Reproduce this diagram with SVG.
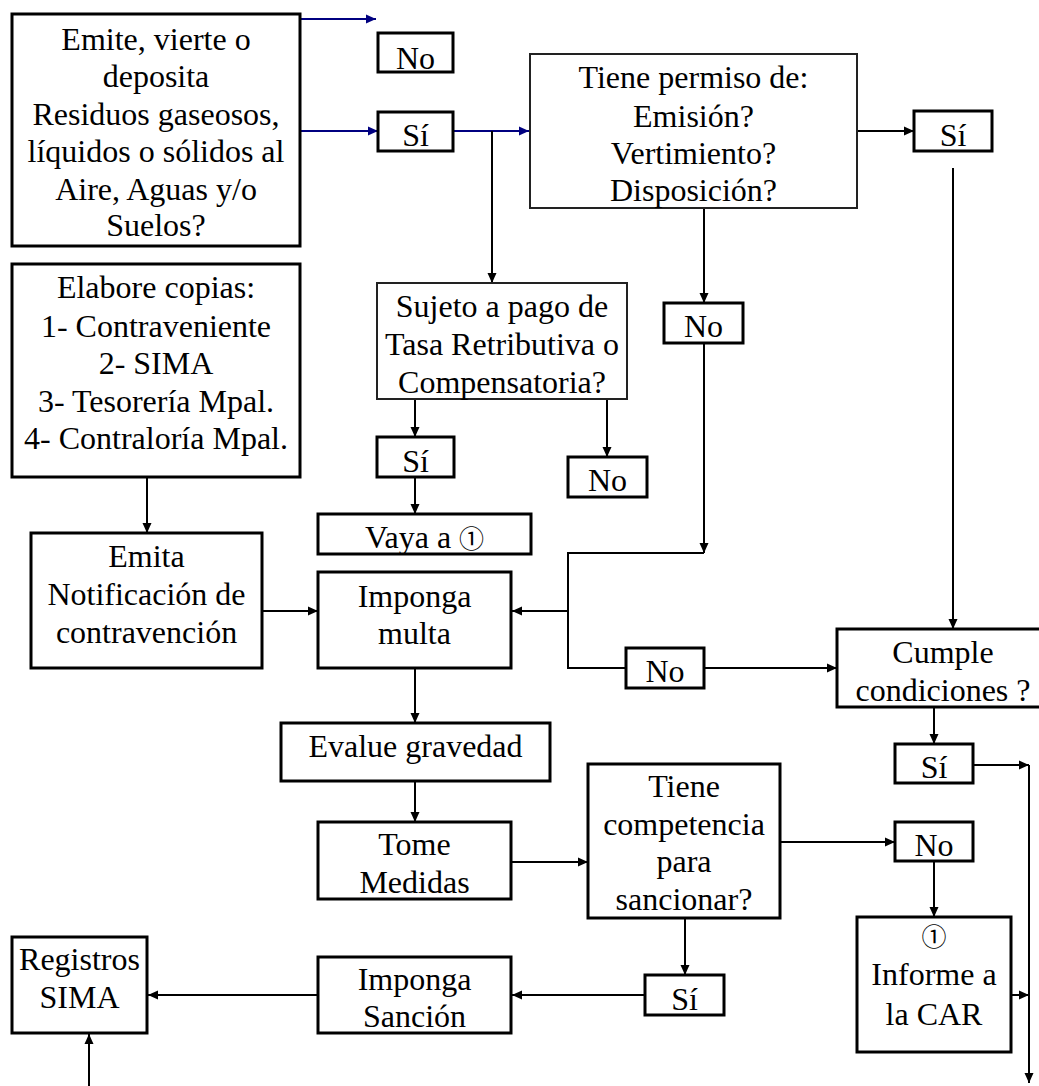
<svg xmlns="http://www.w3.org/2000/svg" width="1039" height="1086" viewBox="0 0 1039 1086">
<defs>
<marker id="ab" markerUnits="userSpaceOnUse" markerWidth="10" markerHeight="10" refX="10" refY="5" orient="auto"><path d="M0,0.5 L10,5 L0,9.5 z" fill="#000"/></marker>
<marker id="au" markerUnits="userSpaceOnUse" markerWidth="10" markerHeight="10" refX="10" refY="5" orient="auto"><path d="M0,0.5 L10,5 L0,9.5 z" fill="#000080"/></marker>
<style>
.b{fill:#fff;stroke:#000;stroke-width:3}
.t{fill:#fff;stroke:#222;stroke-width:2}
text{font-family:"Liberation Serif","Noto Sans CJK JP",serif;font-size:32px;fill:#000;text-anchor:middle}
.k{font-size:25px}
.c{fill:none;stroke:#000;stroke-width:2}
.u{fill:none;stroke:#000080;stroke-width:2}
</style>
</defs>
<rect width="1039" height="1086" fill="#fff"/>
<g id="connectors">
<path class="u" d="M300,19 H376" marker-end="url(#au)"/>
<path class="u" d="M300,131 H378" marker-end="url(#au)"/>
<path class="u" d="M453,131 H529" marker-end="url(#au)"/>
<path class="c" d="M492,131 V283" marker-end="url(#ab)"/>
<path class="c" d="M857,131 H914" marker-end="url(#ab)"/>
<path class="c" d="M953,168 V629" marker-end="url(#ab)"/>
<path class="c" d="M704,208 V303" marker-end="url(#ab)"/>
<path class="c" d="M704,343 V553" marker-end="url(#ab)"/>
<path class="c" d="M704,553 H568 V668 H626"/>
<path class="c" d="M568,611 H512" marker-end="url(#ab)"/>
<path class="c" d="M704,668 H837" marker-end="url(#ab)"/>
<path class="c" d="M415,399 V437" marker-end="url(#ab)"/>
<path class="c" d="M415,477 V514" marker-end="url(#ab)"/>
<path class="c" d="M607,399 V457" marker-end="url(#ab)"/>
<path class="c" d="M147,477 V533" marker-end="url(#ab)"/>
<path class="c" d="M262,611 H318" marker-end="url(#ab)"/>
<path class="c" d="M415,668 V723" marker-end="url(#ab)"/>
<path class="c" d="M415,781 V822" marker-end="url(#ab)"/>
<path class="c" d="M511,862 H588" marker-end="url(#ab)"/>
<path class="c" d="M780,842 H895" marker-end="url(#ab)"/>
<path class="c" d="M934,861 V917" marker-end="url(#ab)"/>
<path class="c" d="M685,918 V975" marker-end="url(#ab)"/>
<path class="c" d="M645,995 H512" marker-end="url(#ab)"/>
<path class="c" d="M318,995 H148" marker-end="url(#ab)"/>
<path class="c" d="M89,1086 V1034" marker-end="url(#ab)"/>
<path class="c" d="M934,707 V744" marker-end="url(#ab)"/>
<path class="c" d="M973,765 H1029" marker-end="url(#ab)"/>
<path class="c" d="M1029,765 V1083" marker-end="url(#ab)"/>
<path class="c" d="M1011,995 H1029" marker-end="url(#ab)"/>
</g>
<g id="n-emite"><rect class="b" x="12" y="14" width="288" height="232"/>
<text x="156" y="50">Emite, vierte o</text><text x="156" y="87">deposita</text><text x="156" y="125">Residuos gaseosos,</text><text x="156" y="162">líquidos o sólidos al</text><text x="156" y="200">Aire, Aguas y/o</text><text x="156" y="236">Suelos?</text></g>
<g id="n-no1"><rect class="b" x="378" y="33" width="75" height="39"/><text x="415.5" y="69">No</text></g>
<g id="n-si1"><rect class="b" x="378" y="112" width="75" height="39"/><text x="415.5" y="146">Sí</text></g>
<g id="n-permiso"><rect class="t" x="530" y="54" width="327" height="154"/>
<text x="693.5" y="88">Tiene permiso de:</text><text x="693.5" y="127">Emisión?</text><text x="693.5" y="164">Vertimiento?</text><text x="693.5" y="201">Disposición?</text></g>
<g id="n-si2"><rect class="b" x="914" y="111" width="78" height="40"/><text x="953" y="146">Sí</text></g>
<g id="n-elabore"><rect class="b" x="12" y="264" width="288" height="213"/>
<text x="156" y="298">Elabore copias:</text><text x="156" y="337">1- Contraveniente</text><text x="156" y="374">2- SIMA</text><text x="156" y="412">3- Tesorería Mpal.</text><text x="156" y="449">4- Contraloría Mpal.</text></g>
<g id="n-sujeto"><rect class="t" x="377" y="283" width="250" height="116"/>
<text x="502" y="317">Sujeto a pago de</text><text x="502" y="355">Tasa Retributiva o</text><text x="502" y="393">Compensatoria?</text></g>
<g id="n-no2"><rect class="b" x="664" y="303" width="79" height="40"/><text x="703.5" y="337">No</text></g>
<g id="n-si3"><rect class="b" x="377" y="437" width="77" height="40"/><text x="415.5" y="472">Sí</text></g>
<g id="n-no3"><rect class="b" x="568" y="457" width="79" height="40"/><text x="607.5" y="491">No</text></g>
<g id="n-vaya"><rect class="b" x="318" y="514" width="213" height="40"/><text x="424.5" y="548">Vaya a <tspan class="k">①</tspan></text></g>
<g id="n-emita"><rect class="b" x="31" y="533" width="231" height="135"/>
<text x="146.5" y="567">Emita</text><text x="146.5" y="605">Notificación de</text><text x="146.5" y="643">contravención</text></g>
<g id="n-multa"><rect class="b" x="318" y="572" width="193" height="96"/>
<text x="414.5" y="607">Imponga</text><text x="414.5" y="644">multa</text></g>
<g id="n-no4"><rect class="b" x="626" y="648" width="78" height="40"/><text x="665" y="682">No</text></g>
<g id="n-cumple"><rect class="b" x="837" y="629" width="215" height="78"/>
<text x="943" y="663">Cumple</text><text x="943" y="701">condiciones ?</text></g>
<g id="n-evalue"><rect class="b" x="281" y="723" width="269" height="58"/><text x="415.5" y="757">Evalue gravedad</text></g>
<g id="n-si4"><rect class="b" x="895" y="744" width="78" height="39"/><text x="934" y="778">Sí</text></g>
<g id="n-tome"><rect class="b" x="318" y="822" width="193" height="77"/>
<text x="414.5" y="855">Tome</text><text x="414.5" y="893">Medidas</text></g>
<g id="n-competencia"><rect class="b" x="588" y="764" width="192" height="154"/>
<text x="684" y="797">Tiene</text><text x="684" y="835">competencia</text><text x="684" y="872">para</text><text x="684" y="910">sancionar?</text></g>
<g id="n-no5"><rect class="b" x="895" y="822" width="78" height="39"/><text x="934" y="856">No</text></g>
<g id="n-informe"><rect class="b" x="857" y="917" width="154" height="135"/>
<text x="934" y="946" class="k">①</text><text x="934" y="985">Informe a</text><text x="934" y="1025">la CAR</text></g>
<g id="n-si5"><rect class="b" x="645" y="975" width="79" height="40"/><text x="684.5" y="1010">Sí</text></g>
<g id="n-sancion"><rect class="b" x="318" y="957" width="193" height="76"/>
<text x="414.5" y="990">Imponga</text><text x="414.5" y="1027">Sanción</text></g>
<g id="n-registros"><rect class="b" x="12" y="937" width="135" height="96"/>
<text x="79.5" y="970">Registros</text><text x="79.5" y="1008">SIMA</text></g>
</svg>
